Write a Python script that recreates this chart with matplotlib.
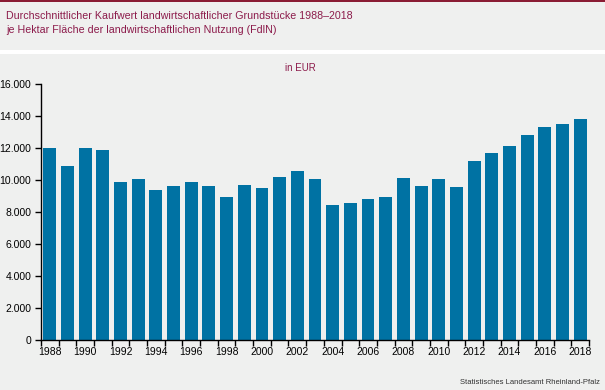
import matplotlib
matplotlib.use("Agg")
import matplotlib.pyplot as plt
from matplotlib.ticker import FuncFormatter, MultipleLocator
import matplotlib.patches as mpatches

years = list(range(1988, 2019))
values = [12000, 10870, 12000, 11890, 9870, 10060, 9380, 9630, 9870, 9630,
          8940, 9690, 9500, 10190, 10560, 10060, 8440, 8560, 8810, 8940,
          10130, 9630, 10060, 9560, 11190, 11690, 12130, 12810, 13310, 13500,
          13810]

title_lines = ["Durchschnittlicher Kaufwert landwirtschaftlicher Grundstücke 1988–2018",
               "je Hektar Fläche der landwirtschaftlichen Nutzung (FdlN)"]
unit = "in EUR"
source = "Statistisches Landesamt Rheinland-Pfalz"

BG = "#eff0ef"
BAR = "#0072a3"
MAROON = "#8c1b4b"

plt.rcParams["font.family"] = ["Liberation Sans", "DejaVu Sans"]

W, H = 605, 390
fig = plt.figure(figsize=(W / 100, H / 100), dpi=100)
fig.patch.set_facecolor(BG)

# top red line and white separator
fig.add_artist(mpatches.Rectangle((0, 1 - 2 / H), 1, 2 / H, transform=fig.transFigure,
                                  facecolor="#8a1c34", edgecolor="none"))
fig.add_artist(mpatches.Rectangle((0, 1 - 54 / H), 1, 4 / H, transform=fig.transFigure,
                                  facecolor="white", edgecolor="none"))

for i, line in enumerate(title_lines):
    fig.text(6 / W, 1 - (16 + 14 * i) / H, line, color=MAROON, fontsize=7.7,
             ha="left", va="center")
fig.text(300 / W, 1 - 68 / H, unit, color=MAROON, fontsize=7, ha="center", va="center")
fig.text(600 / W, 1 - 383 / H, source, color="#333333", fontsize=5.5, ha="right", va="center")

ax = fig.add_axes([41 / W, 1 - 340 / H, (589 - 41) / W, (340 - 84.3) / H])
ax.set_facecolor(BG)
x = list(range(len(years)))
ax.bar(x, values, width=0.73, color=BAR, zorder=2)

ax.set_xlim(-0.5, len(years) - 0.5)
ax.set_ylim(0, 16000)
ax.yaxis.set_major_locator(MultipleLocator(2000))
ax.yaxis.set_major_formatter(FuncFormatter(lambda v, p: f"{int(v):,}".replace(",", ".")))

ax.set_xticks([i for i, y in enumerate(years) if y % 2 == 0])
ax.set_xticklabels([str(y) for y in years if y % 2 == 0])
ax.set_xticks([i - 0.5 for i in range(len(years) + 1)], minor=True)
ax.tick_params(axis="x", which="major", length=0, pad=5, labelsize=7.5)
ax.tick_params(axis="x", which="minor", length=4, width=1, color="black")
ax.tick_params(axis="y", length=4, width=1, labelsize=7.5, pad=3)

for s in ("top", "right"):
    ax.spines[s].set_visible(False)
for s in ("left", "bottom"):
    ax.spines[s].set_color("black")
    ax.spines[s].set_linewidth(1)

fig.savefig("out.png", dpi=100, facecolor=fig.get_facecolor())
